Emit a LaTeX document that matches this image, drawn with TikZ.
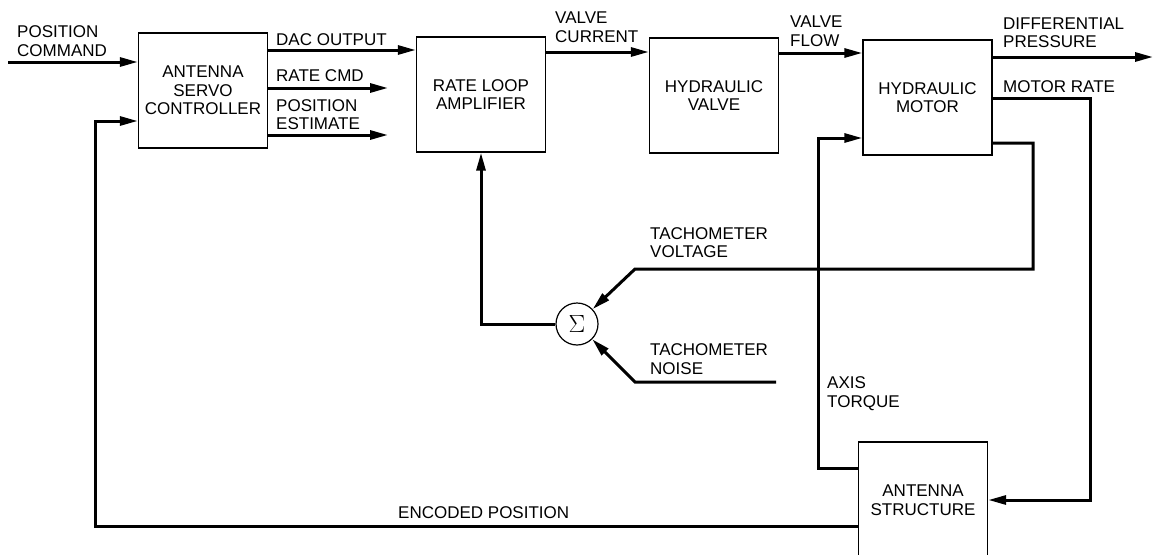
\documentclass[tikz,border=0pt]{standalone}
\usepackage{fontspec}
\setmainfont{Liberation Sans}
\usetikzlibrary{arrows.meta}

\tikzset{
  blk/.style={draw,line width=1.4pt,minimum width=129pt,minimum height=115pt,align=center,inner sep=0pt},
  lbl/.style={anchor=west,align=left,inner sep=0pt},
  wire/.style={line width=3pt},
  flow/.style={wire,-{Triangle[length=18pt,width=9pt]}},
}

\begin{document}
\begin{tikzpicture}[x=1pt,y=-1pt,font=\fontsize{17}{18.5}\selectfont]
  \useasboundingbox (0,0) rectangle (1156,554);
  \clip (0,0) rectangle (1156,554);
  % blocks
  \foreach \n/\x/\y/\t in {asc/203/90.5/{ANTENNA\\SERVO\\CONTROLLER},
      rla/481/94.5/{RATE LOOP\\AMPLIFIER}, hv/714/95.5/{HYDRAULIC\\VALVE},
      hm/927.5/97.5/{HYDRAULIC\\MOTOR}}
    \node[blk] (\n) at (\x,\y) {\t};
  \node[blk,minimum height=116pt] (as) at (923,500) {ANTENNA\\STRUCTURE}; % bottom runs off the page
  \node[draw,circle,line width=1.2pt,minimum size=42pt,inner sep=0pt,
        font=\fontsize{23}{23}\selectfont] (sig) at (577,324) {$\Sigma$};

  % free ends
  \coordinate (pcin) at (8,62);
  \coordinate (rcmd) at (388,88);
  \coordinate (pest) at (388,135);
  \coordinate (dpout) at (1153,57);
  \coordinate (noise) at (776,382);

  % forward path
  \draw[flow] (pcin) -- (pcin -| asc.west);
  \draw[flow] (asc.east |- 0,50) -- (rla.west |- 0,50);
  \draw[flow] (asc.east |- rcmd) -- (rcmd);
  \draw[flow] (asc.east |- pest) -- (pest);
  \draw[flow] (rla.east |- 0,52) -- (hv.west |- 0,52);
  \draw[flow] (hv.east |- 0,53) -- (hm.west |- 0,53);
  \draw[flow] (hm.east |- dpout) -- (dpout);
  \draw[flow] (hm.east |- 0,98) -| (1090,500) -- (as.east);

  % rate loop
  \draw[flow] (hm.east |- 0,143) -| (1033,269) -- (635,269) -- (sig);
  \draw[flow] (noise) -- (635,382) -- (sig);
  \draw[flow] (sig) -| (rla.south);

  % structure feedback
  \draw[flow] (as.west |- 0,468) -- (818,468) -- (818,138) -- (hm.west |- 0,138);
  \draw[flow] (as.west |- 0,526) -| (95,121) -- (asc.west |- 0,121);

  % signal names
  \foreach \n/\x/\y/\t in {lpc/17/41/{POSITION\\COMMAND}, ldac/276/40/{DAC OUTPUT},
      lrc/276/76/{RATE CMD}, lpe/276/114.5/{POSITION\\ESTIMATE},
      lvc/555/27/{VALVE\\CURRENT}, lvf/790/31/{VALVE\\FLOW},
      ldp/1003/32.5/{DIFFERENTIAL\\PRESSURE}, lmr/1003/87/{MOTOR RATE},
      ltv/650/242.5/{TACHOMETER\\VOLTAGE}, ltn/650/359/{TACHOMETER\\NOISE},
      lat/827/393.5/{AXIS\\TORQUE}, lep/398/513/{ENCODED POSITION}}
    \node[lbl] (\n) at (\x,\y) {\t};
\end{tikzpicture}
\end{document}
